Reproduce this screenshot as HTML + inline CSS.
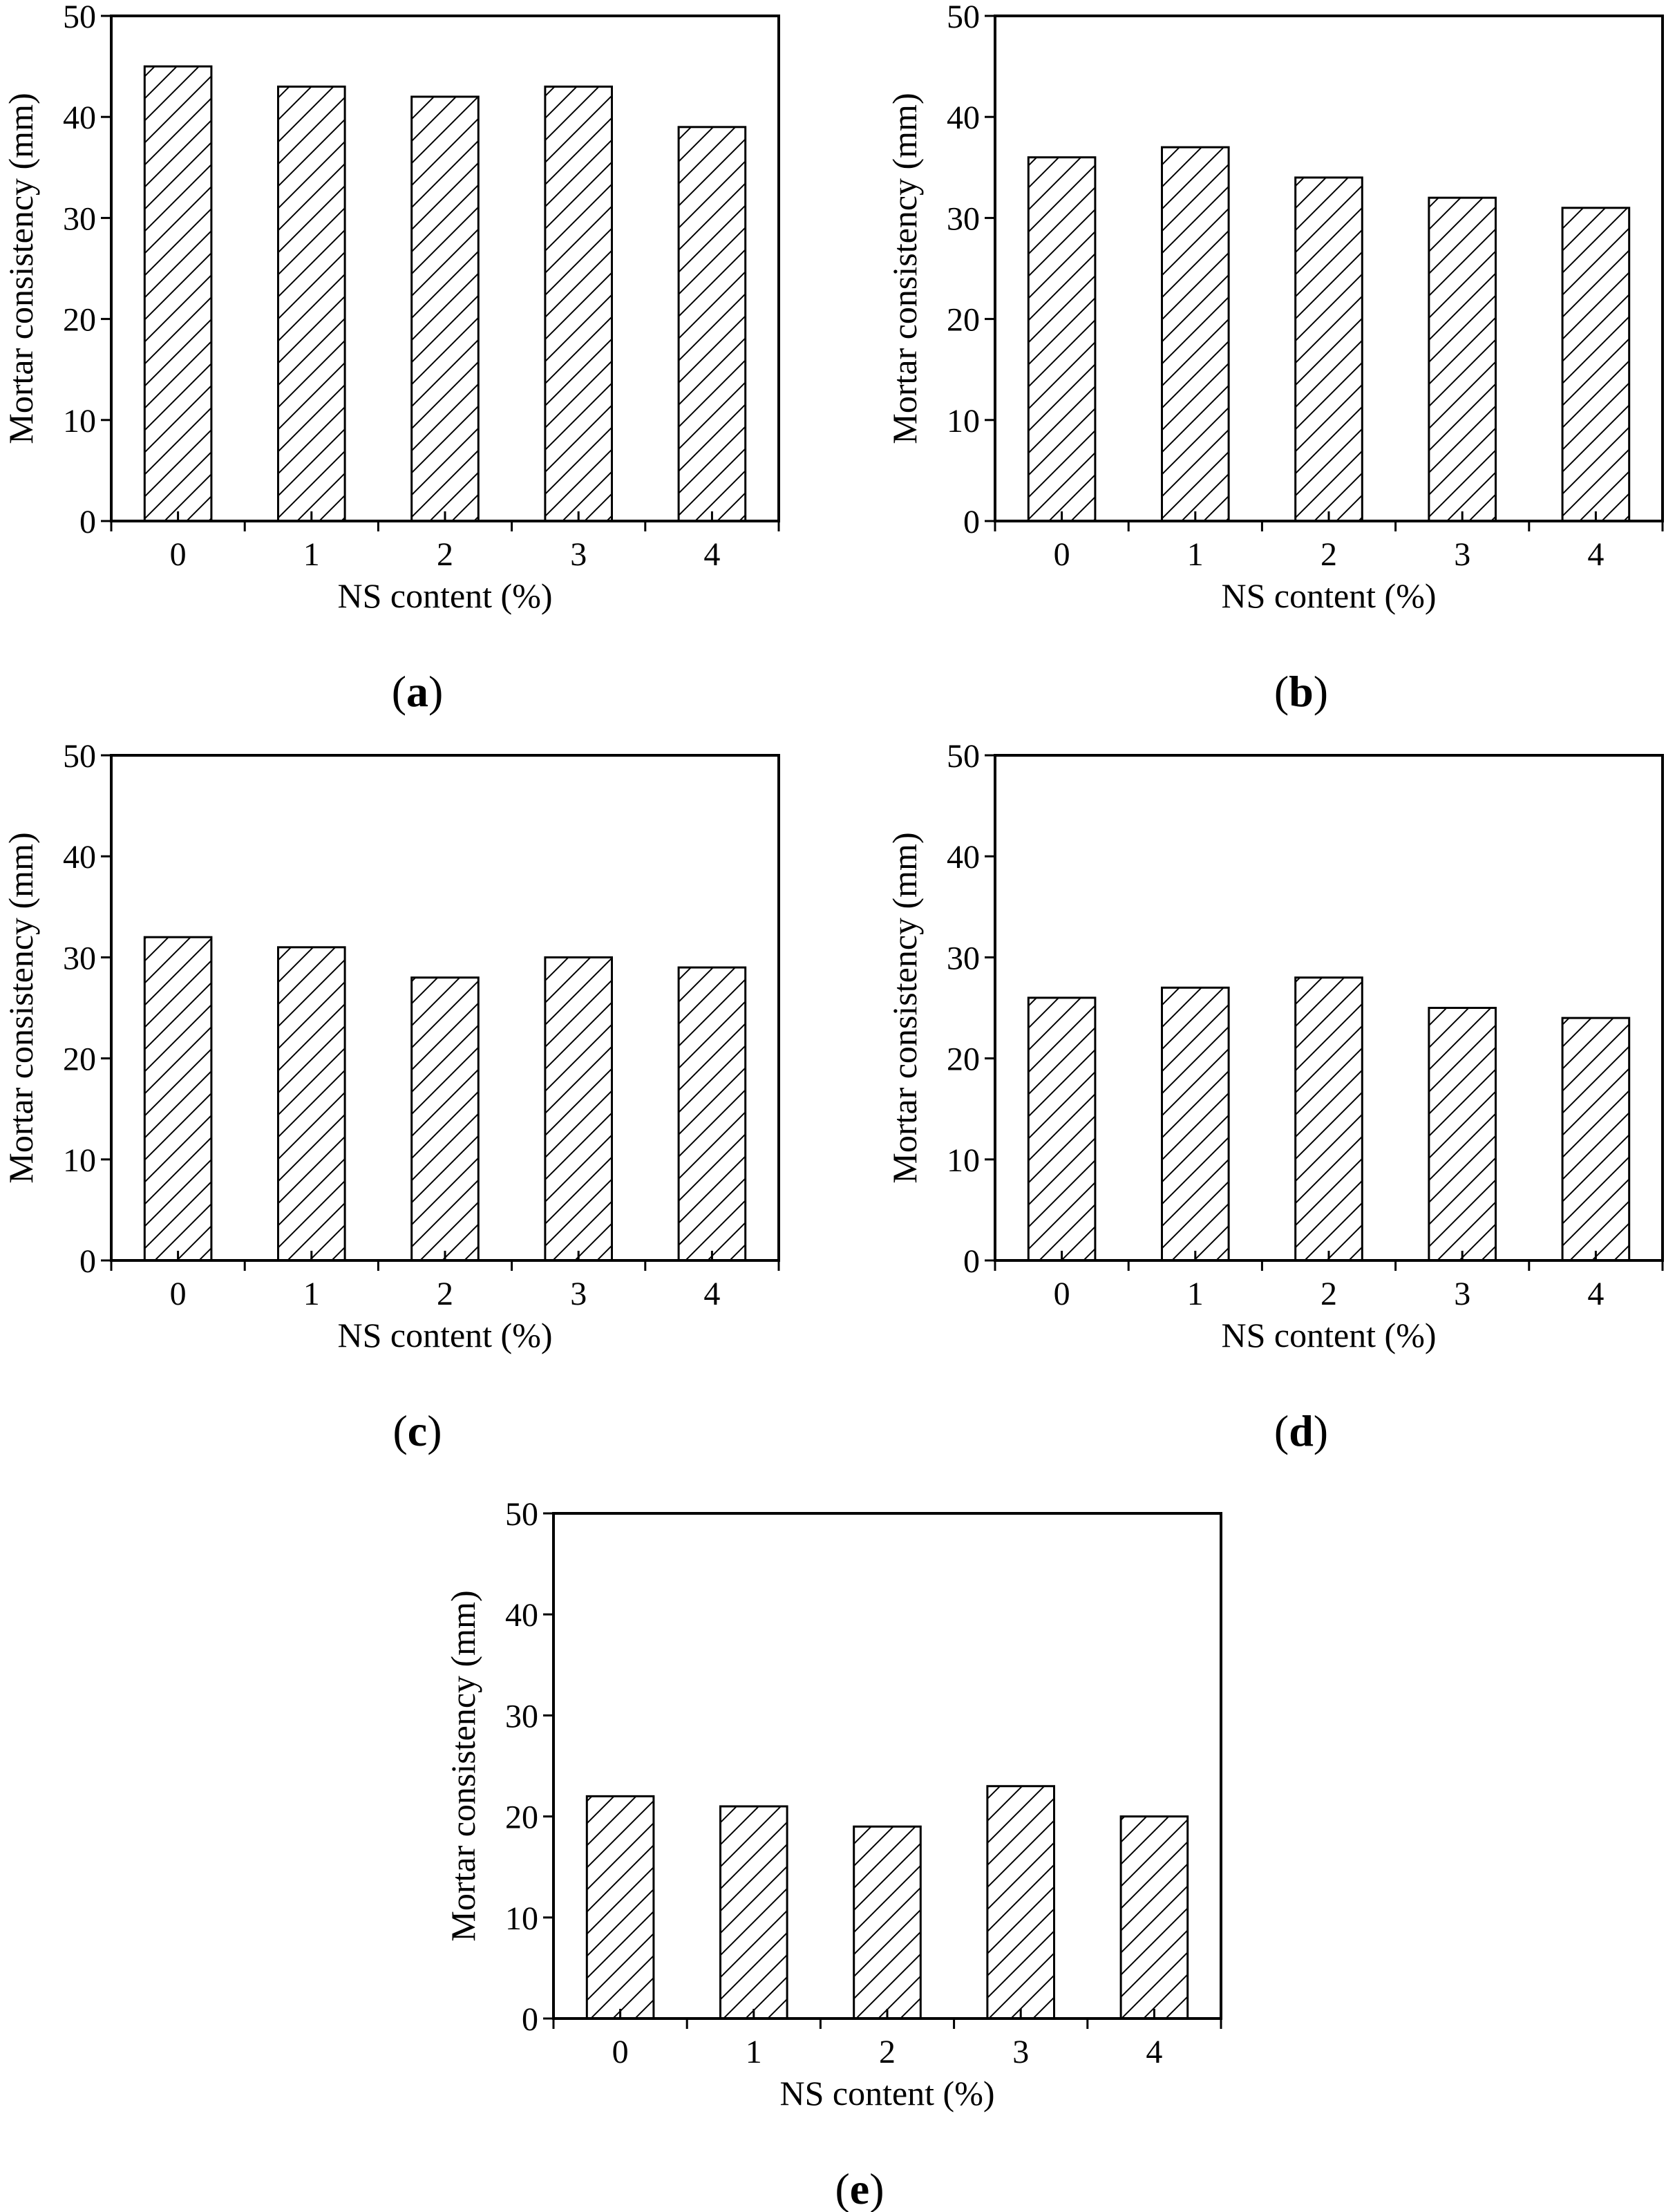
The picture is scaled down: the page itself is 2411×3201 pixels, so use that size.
<!DOCTYPE html>
<html><head><meta charset="utf-8"><style>
html,body{margin:0;padding:0;background:#fff;}
svg{display:block;font-family:"Liberation Serif",serif;}
</style></head><body>
<svg id="fig" width="2411" height="3201" viewBox="0 0 2411 3201">
<defs>
<pattern id="hatch" patternUnits="userSpaceOnUse" width="32" height="32">
<path d="M-6,38 L38,-6 M-6,6 L6,-6 M26,38 L38,26" stroke="#000" stroke-width="2" fill="none"/>
</pattern>
</defs>
</svg>
<script>
const categories = ["0","1","2","3","4"];
const yTicks = [0,10,20,30,40,50];
const valuesA = [45,43,42,43,39];
const valuesB = [36,37,34,32,31];
const valuesC = [32,31,28,30,29];
const valuesD = [26,27,28,25,24];
const valuesE = [22,21,19,23,20];
const panelLetters = ["a","b","c","d","e"];

const NS="http://www.w3.org/2000/svg";
const svg=document.getElementById('fig');
function mk(tag,attrs,parent){const e=document.createElementNS(NS,tag);for(const k in attrs)e.setAttribute(k,attrs[k]);(parent||svg).appendChild(e);return e;}

const panels=[
 {L:161,T:23,W:966,H:731,vals:valuesA},
 {L:1440,T:23,W:966,H:731,vals:valuesB},
 {L:161,T:1093,W:966,H:731,vals:valuesC},
 {L:1440,T:1093,W:966,H:731,vals:valuesD},
 {L:801,T:2190,W:966,H:731,vals:valuesE}
];

panels.forEach((p,pi)=>{
 const g=mk('g',{});
 
 
 const yS=v=>p.T+p.H-(v/50)*p.H;
 const cw=p.W/categories.length;
 const xC=i=>p.L+cw*(i+0.5);
 p.vals.forEach((v,i)=>{
  const r=mk('rect',{x:xC(i)-cw/4,y:yS(v),width:cw/2,height:yS(0)-yS(v),fill:'url(#hatch)',stroke:'#000','stroke-width':3},g);
  
  
  mk('line',{x1:xC(i),x2:xC(i),y1:yS(0),y2:yS(0)-14,stroke:'#000','stroke-width':3},g);
 });
 const fr=mk('rect',{x:p.L,y:p.T,width:p.W,height:p.H,fill:'none',stroke:'#000','stroke-width':4},g);
 
 
 for(let i=0;i<=categories.length;i++){
  mk('line',{x1:p.L+cw*i,x2:p.L+cw*i,y1:yS(0),y2:yS(0)+15,stroke:'#000','stroke-width':3},g);
 }
 categories.forEach((c,i)=>{
  const t=mk('text',{x:xC(i),y:yS(0)+64,'font-size':48,'text-anchor':'middle'},g);
  t.textContent=c;
  
  
 });
 yTicks.forEach(v=>{
  mk('line',{x1:p.L-15,x2:p.L,y1:yS(v),y2:yS(v),stroke:'#000','stroke-width':3},g);
  const t=mk('text',{x:p.L-22,y:yS(v)+17,'font-size':48,'text-anchor':'end'},g);
  t.textContent=v;
  
  
 });
 const xt=mk('text',{x:p.L+p.W/2,y:yS(0)+125,'font-size':50,'text-anchor':'middle'},g);
 xt.textContent='NS content (%)';
 
 
 const cy=p.T+p.H/2;
 const yt=mk('text',{x:p.L-114,y:cy,'font-size':50,'text-anchor':'middle',transform:'rotate(-90 '+(p.L-114)+' '+cy+')'},g);
 yt.textContent='Mortar consistency (mm)';
 
 
 const pl=mk('text',{x:p.L+p.W/2-40,y:yS(0)+268,'font-size':64,'text-anchor':'middle'},g);
 pl.innerHTML='(<tspan font-weight="bold">'+panelLetters[pi]+'</tspan>)';
 
 
});
</script>
</body></html>
